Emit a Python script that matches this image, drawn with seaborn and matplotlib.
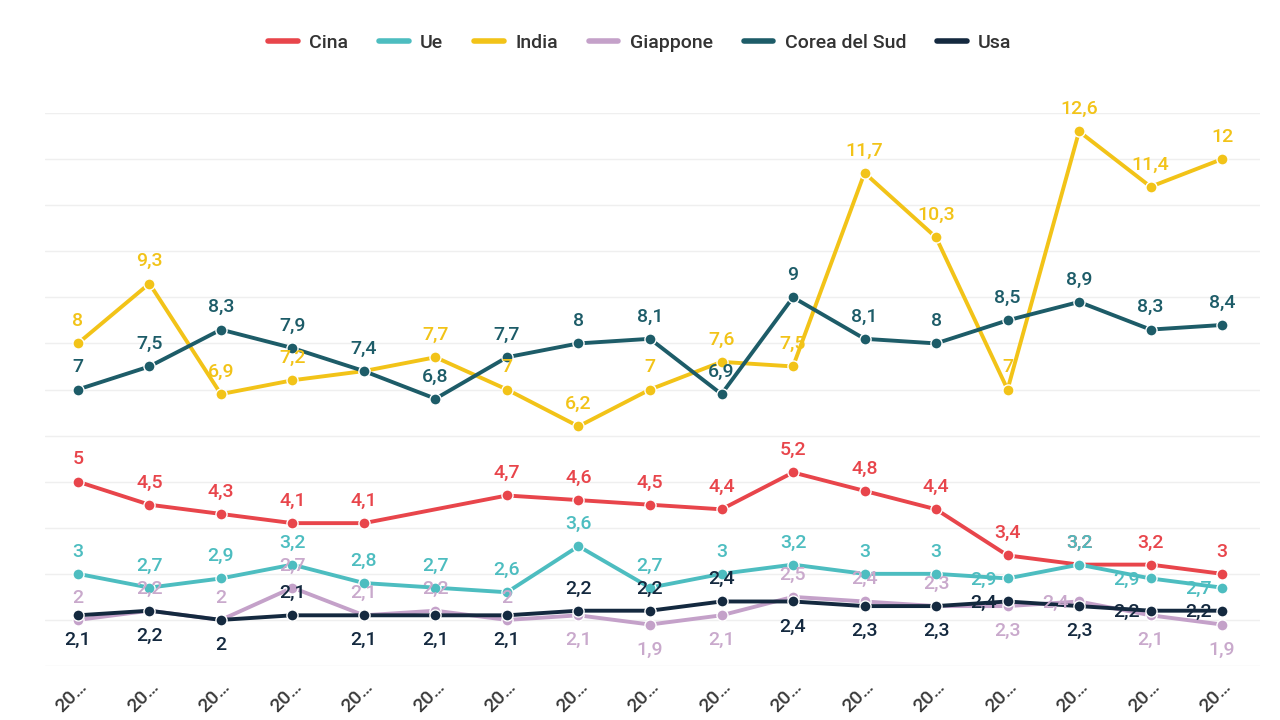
import numpy as np
import pandas as pd
import seaborn as sns
import matplotlib.pyplot as plt

x_labels = ["20…"] * 17
series_names = ["Cina", "Ue", "India", "Giappone", "Corea del Sud", "Usa"]

cina = [5, 4.5, 4.3, 4.1, 4.1, np.nan, 4.7, 4.6, 4.5, 4.4, 5.2, 4.8, 4.4, 3.4, 3.2, 3.2, 3]
ue = [3, 2.7, 2.9, 3.2, 2.8, 2.7, 2.6, 3.6, 2.7, 3, 3.2, 3, 3, 2.9, 3.2, 2.9, 2.7]
india = [8, 9.3, 6.9, 7.2, 7.4, 7.7, 7, 6.2, 7, 7.6, 7.5, 11.7, 10.3, 7, 12.6, 11.4, 12]
giappone = [2, 2.2, 2, 2.7, 2.1, 2.2, 2, 2.1, 1.9, 2.1, 2.5, 2.4, 2.3, 2.3, 2.4, 2.1, 1.9]
corea = [7, 7.5, 8.3, 7.9, 7.4, 6.8, 7.7, 8, 8.1, 6.9, 9, 8.1, 8, 8.5, 8.9, 8.3, 8.4]
usa = [2.1, 2.2, 2, 2.1, 2.1, 2.1, 2.1, 2.2, 2.2, 2.4, 2.4, 2.3, 2.3, 2.4, 2.3, 2.2, 2.2]

values = [cina, ue, india, giappone, corea, usa]
colors = ["#e8454b", "#4dbdc0", "#f2c318", "#c4a1c9", "#1d5c68", "#14293f"]
label_colors = ["#e8454b", "#4dbdc0", "#f2c318", "#c9a9cc", "#1d5c68", "#14293f"]

# label placement (style): 1 above, -1 below, 2 left, 0 hidden
place = {
    "Cina": [1] * 17,
    "Ue": [1] * 13 + [2, 1, 2, 2],
    "India": [1, 1, 1, 1, 0, 1, 1, 1, 1, 1, 1, 1, 1, 1, 1, 1, 1],
    "Giappone": [1, 1, 1, 1, 1, 1, 1, -1, -1, -1, 1, 1, 1, -1, 2, -1, -1],
    "Corea del Sud": [1] * 17,
    "Usa": [-1, -1, -1, 1, -1, -1, -1, 1, 1, 1, -1, -1, -1, 2, -1, 2, 2],
}
offsets = {1: (0, 16), -1: (0, -18), 2: (-17, -1)}

rows = []
for name, vals in zip(series_names, values):
    for i, v in enumerate(vals):
        rows.append({"x": i, "serie": name, "val": v})
df = pd.DataFrame(rows).dropna()

sns.set_theme(style="white")
plt.rcParams["font.family"] = ["Roboto", "DejaVu Sans"]

fig = plt.figure(figsize=(12.8, 7.2), dpi=100)
ax = fig.add_axes([45 / 1280, (720 - 666) / 720, (1260 - 45) / 1280, (666 - 113) / 720])

palette = dict(zip(series_names, colors))
sns.lineplot(data=df, x="x", y="val", hue="serie", hue_order=series_names,
             palette=palette, linewidth=2.8, marker="o", markersize=8,
             markeredgecolor="white", markeredgewidth=1.0, ax=ax, legend=False)

for name, vals, lc in zip(series_names, values, label_colors):
    for i, v in enumerate(vals):
        p = place[name][i]
        if np.isnan(v) or p == 0:
            continue
        txt = f"{v:g}".replace(".", ",")
        ax.annotate(txt, (i, v), xytext=offsets[p],
                    textcoords="offset points", ha="center", va="center",
                    fontsize=14, fontweight="medium", color=lc)

ax.set_xlim(-0.46, 16.53)
ax.set_ylim(1, 13)
ax.set_yticks(range(1, 14))
ax.set_yticklabels([])
ax.tick_params(axis="y", length=0)
ax.grid(axis="y", color="#efefef", linewidth=1)
ax.set_xticks(range(17))
ax.set_xticklabels(x_labels, rotation=45, ha="right", rotation_mode="anchor",
                   fontsize=14, fontweight="medium", color="#3a3a3a")
ax.tick_params(axis="x", length=0, pad=8)
ax.set_xlabel("")
ax.set_ylabel("")
for s in ax.spines.values():
    s.set_visible(False)

handles = [plt.Line2D([0], [0], color=c, linewidth=4) for c in colors]
fig.legend(handles, series_names, loc="center", bbox_to_anchor=(0.5, 1 - 43 / 720),
           ncol=6, frameon=False, handlelength=1.5,
           columnspacing=1.6, handletextpad=0.6, labelcolor="#333333",
           prop={"size": 14, "weight": "medium"})

fig.savefig("out.png", dpi=100)
